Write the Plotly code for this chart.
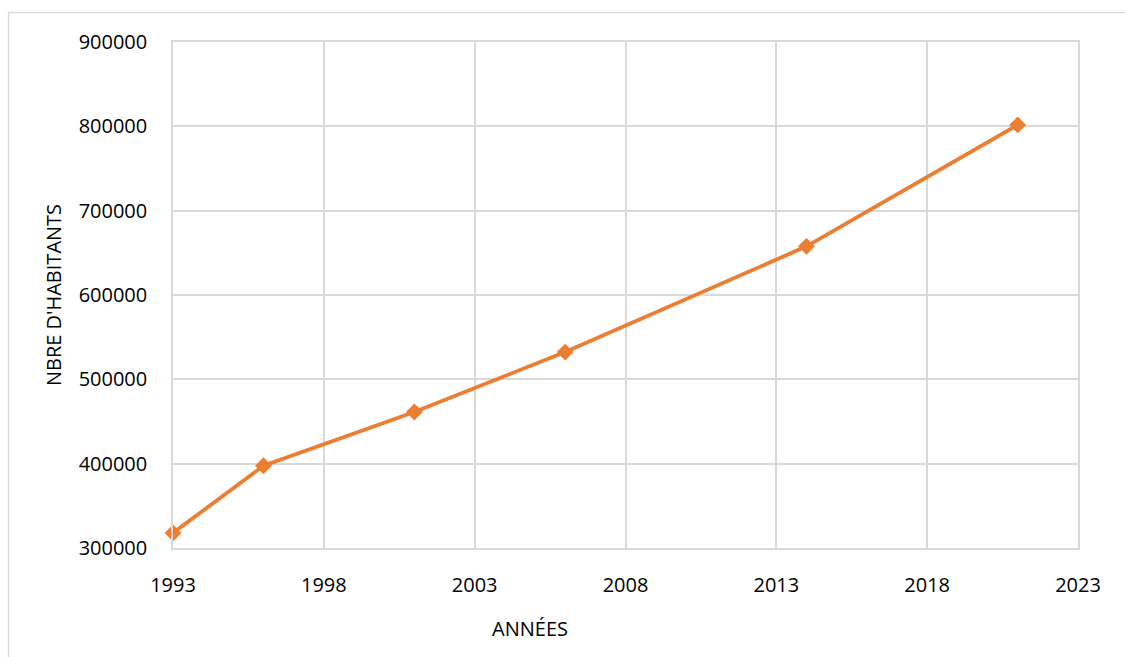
import plotly.graph_objects as go

# Population par année de recensement
annees = [1993, 1996, 2001, 2006, 2014, 2021]
habitants = [317800, 397600, 461300, 532300, 657700, 801700]

x_ticks = [1993, 1998, 2003, 2008, 2013, 2018, 2023]
y_ticks = [300000, 400000, 500000, 600000, 700000, 800000, 900000]

ORANGE = "#ED7D31"
GRID = "#D9D9D9"
FONT = "Open Sans"

fig = go.Figure()
fig.add_trace(go.Scatter(
    x=annees,
    y=habitants,
    mode="lines+markers",
    line=dict(color=ORANGE, width=3.8),
    marker=dict(symbol="diamond", size=13, color=ORANGE),
    cliponaxis=False,
    showlegend=False,
))

W, H = 1125, 657
L, R, T, B = 173, 47, 42, 109
pw, ph = W - L - R, H - T - B

def px_x(p):
    return (p - L) / pw

def px_y(p):
    return (H - B - p) / ph

# Cadre extérieur du graphique
fig.add_shape(
    type="rect", xref="paper", yref="paper",
    x0=px_x(8.5), x1=px_x(W + 20), y0=px_y(H + 20), y1=px_y(12.5),
    line=dict(color=GRID, width=1.3), fillcolor="rgba(0,0,0,0)", layer="below",
)

# Titre de l'axe horizontal
fig.add_annotation(
    text="ANNÉES", xref="paper", yref="paper",
    x=px_x(530), y=px_y(628), xanchor="center", yanchor="middle",
    showarrow=False, font=dict(family=FONT, size=20, color="#000000"),
)

fig.update_layout(
    width=W, height=H,
    margin=dict(l=L, r=R, t=T, b=B, pad=0),
    paper_bgcolor="white",
    plot_bgcolor="white",
    font=dict(family=FONT, size=20, color="#000000"),
    xaxis=dict(
        range=[1993, 2023],
        tickvals=x_ticks,
        ticktext=[str(v) for v in x_ticks],
        showgrid=True, gridcolor=GRID, gridwidth=1.5,
        showline=True, linecolor=GRID, linewidth=1.5, mirror=True,
        zeroline=False, ticks="", ticklabelstandoff=18,
        fixedrange=True,
    ),
    yaxis=dict(
        range=[300000, 900000],
        tickvals=y_ticks,
        ticktext=[str(v) for v in y_ticks],
        showgrid=True, gridcolor=GRID, gridwidth=1.5,
        showline=True, linecolor=GRID, linewidth=1.5, mirror=True,
        zeroline=False, ticks="", ticklabelstandoff=20,
        title=dict(text="NBRE D'HABITANTS", font=dict(family=FONT, size=20), standoff=12),
        fixedrange=True,
    ),
)

fig.write_html("out.html")
